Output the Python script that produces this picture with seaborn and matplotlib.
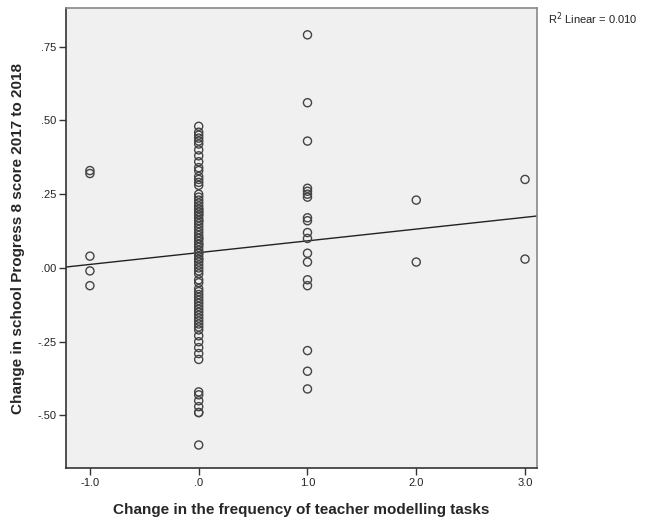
import numpy as np
import pandas as pd
import matplotlib
matplotlib.use('Agg')
import matplotlib.pyplot as plt
import seaborn as sns

# Values (x = change in frequency, y = change in P8 score)
x_minus1 = [0.33, 0.32, 0.04, -0.01, -0.06]
x_zero = [0.48, 0.46, 0.45, 0.44, 0.43, 0.42, 0.40, 0.38, 0.36, 0.34, 0.33, 0.31,
          0.30, 0.29, 0.28,
          0.25, 0.24, 0.23, 0.22, 0.21, 0.20, 0.20, 0.19, 0.19, 0.18, 0.18, 0.17,
          0.16, 0.16, 0.15, 0.14, 0.13, 0.12, 0.11, 0.10, 0.10, 0.09, 0.08, 0.08,
          0.07, 0.06, 0.05, 0.05, 0.04, 0.03, 0.03, 0.02, 0.01, 0.00, -0.01, -0.02,
          -0.04, -0.05, -0.07, -0.08, -0.09, -0.10, -0.11, -0.12, -0.13, -0.14,
          -0.15, -0.16, -0.17, -0.18, -0.19, -0.20, -0.21,
          -0.23, -0.25, -0.27, -0.29, -0.31,
          -0.42, -0.43, -0.45, -0.47, -0.49, -0.49,
          -0.60]
x_one = [0.79, 0.56, 0.43, 0.27, 0.26, 0.25, 0.24, 0.17, 0.16, 0.12, 0.10, 0.05,
         0.02, -0.04, -0.06, -0.28, -0.35, -0.41]
x_two = [0.23, 0.02]
x_three = [0.30, 0.03]

xs = [-1.0] * len(x_minus1) + [0.0] * len(x_zero) + [1.0] * len(x_one) \
    + [2.0] * len(x_two) + [3.0] * len(x_three)
ys = x_minus1 + x_zero + x_one + x_two + x_three
df = pd.DataFrame({'modelling': xs, 'progress8': ys})

x_ticks = [-1.0, 0.0, 1.0, 2.0, 3.0]
x_tick_labels = ['-1.0', '.0', '1.0', '2.0', '3.0']
y_ticks = [-0.50, -0.25, 0.00, 0.25, 0.50, 0.75]
y_tick_labels = ['-.50', '-.25', '.00', '.25', '.50', '.75']

sns.set_style('ticks')
plt.rcParams['font.family'] = ['Liberation Sans', 'DejaVu Sans']

fig = plt.figure(figsize=(6.56, 5.22), dpi=100)
ax = fig.add_axes([0.1006, 0.1034, 0.718, 0.8813])
ax.set_facecolor('#f0f0f0')
ax.set_xlim(-1.22, 3.11)
ax.set_ylim(-0.678, 0.881)

sns.scatterplot(data=df, x='modelling', y='progress8', ax=ax, marker='o', s=34,
                facecolor='none', edgecolor='#444444', linewidth=1.0, zorder=3)
sns.regplot(data=df, x='modelling', y='progress8', ax=ax, scatter=False, ci=None,
            truncate=False, line_kws={'color': '#222222', 'linewidth': 1.0})

ax.set_xlim(-1.22, 3.11)
ax.set_ylim(-0.678, 0.881)
ax.set_xticks(x_ticks)
ax.set_xticklabels(x_tick_labels)
ax.set_yticks(y_ticks)
ax.set_yticklabels(y_tick_labels)
ax.tick_params(axis='both', labelsize=8, length=5, width=1, color='#333333',
               labelcolor='#222222', pad=2)
for side in ['left', 'bottom']:
    ax.spines[side].set_color('#333333')
    ax.spines[side].set_linewidth(1.2)
for side in ['top', 'right']:
    ax.spines[side].set_visible(True)
    ax.spines[side].set_color('#888888')
    ax.spines[side].set_linewidth(1.2)

ax.set_xlabel('Change in the frequency of teacher modelling tasks', fontsize=11,
              fontweight='bold', labelpad=11)
ax.set_ylabel('Change in school Progress 8 score 2017 to 2018', fontsize=11,
              fontweight='bold', labelpad=9)

r = np.corrcoef(df['modelling'], df['progress8'])[0, 1]
fig.text(0.835, 0.964, f'R$^2$ Linear = {r ** 2:.3f}', fontsize=8, color='#222222',
         va='center', ha='left')

fig.savefig('out.png', dpi=100)
